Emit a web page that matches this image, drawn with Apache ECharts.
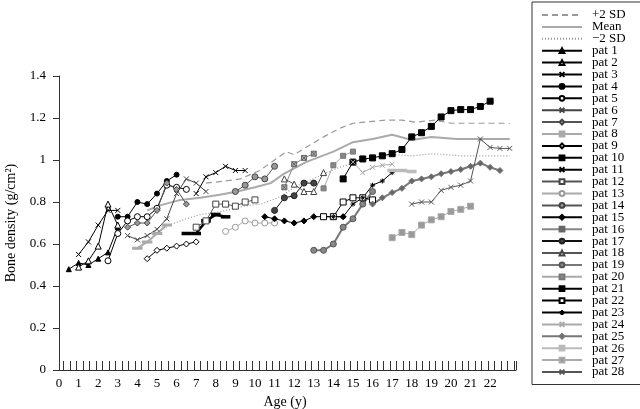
<!DOCTYPE html>
<html>
<head>
<meta charset="utf-8">
<script src="https://cdn.jsdelivr.net/npm/echarts@6/dist/echarts.min.js"></script>
<style>
html, body { margin: 0; padding: 0; background: #fff; }
#chart { width: 640px; height: 409px; }
</style>
</head>
<body>
<div id="chart"></div>
<script>
// reference curves
const plus2SD = [[7.5,0.89],[8.5,0.90],[9.25,0.91],[10.25,0.95],[11,1.0],[11.6,1.04],[12,1.025],[12.6,1.06],[13.5,1.11],[14.3,1.15],[15,1.175],[16.7,1.19],[17.5,1.19],[18.2,1.18],[19.2,1.19],[20,1.175],[23,1.175]]
const meanSD = [[4.5,0.76],[5.2,0.785],[6.2,0.81],[7.2,0.82],[8.2,0.835],[9.1,0.85],[10,0.87],[10.8,0.89],[11.4,0.93],[12.6,0.99],[14,1.04],[15,1.085],[16,1.10],[17,1.12],[18,1.095],[19,1.11],[20.3,1.10],[23,1.10]]
const minus2SD = [[4.6,0.62],[5.6,0.69],[6.5,0.72],[7.2,0.74],[8.3,0.755],[9.4,0.78],[10.3,0.79],[11.3,0.825],[12,0.87],[13.2,0.92],[14.3,0.965],[15.5,1.0],[16,1.01],[17.2,1.025],[18,1.02],[19.1,1.03],[20.5,1.02],[23,1.02]]

// patients [age, density]
const pat1 = [[0.5,0.48],[1,0.51],[1.5,0.50],[2,0.53],[2.5,0.56],[3,0.68]]
const pat2 = [[1,0.49],[1.5,0.52],[2,0.59],[2.5,0.79],[3,0.69]]
const pat3 = [[1,0.55],[1.5,0.61],[2,0.69],[2.5,0.76],[3,0.76]]
const pat4 = [[3,0.73],[3.5,0.73],[4,0.80],[4.5,0.79],[5,0.84],[5.5,0.90],[6,0.93]]
const pat5 = [[2.5,0.52],[3,0.65],[3.5,0.71],[4,0.73],[4.5,0.73],[5,0.77],[5.5,0.88],[6,0.87],[6.5,0.86]]
const pat6 = [[3.5,0.64],[4,0.62],[4.5,0.64],[5,0.67],[5.5,0.72],[6,0.84],[6.5,0.91],[7,0.89],[7.5,0.85]]
const pat7 = [[3.5,0.68],[4,0.70],[4.5,0.70],[5,0.76],[5.5,0.89],[6,0.86],[6.5,0.79]]
const pat8 = [[4,0.58],[4.5,0.61],[5,0.65],[5.5,0.69]]
const pat9 = [[4.5,0.53],[5,0.57],[5.5,0.58],[6,0.59],[6.5,0.60],[7,0.61]]
const pat10 = [[6.5,0.65],[7,0.65],[7.5,0.71],[8,0.74],[8.5,0.73]]
const pat11 = [[7,0.84],[7.5,0.92],[8,0.94],[8.5,0.97],[9,0.95],[9.5,0.95]]
const pat12 = [[7,0.68],[7.5,0.71],[8,0.79],[8.5,0.79],[9,0.78],[9.5,0.80],[10,0.81]]
const pat13 = [[8.5,0.66],[9,0.68],[9.5,0.71],[10,0.70],[10.5,0.70],[11,0.70]]
const pat14 = [[9,0.85],[9.5,0.88],[10,0.92],[10.5,0.91],[11,0.97]]
const pat15 = [[10.5,0.73],[11,0.72],[11.5,0.71],[12,0.70],[12.5,0.71],[13,0.73],[13.5,0.73],[14,0.73],[14.5,0.73]]
const pat16 = [[11.5,0.87],[12,0.98],[12.5,1.01],[13,1.03]]
const pat17 = [[11,0.76],[11.5,0.82],[12,0.83],[12.5,0.89],[13,0.89]]
const pat18 = [[11.5,0.91],[12,0.885],[12.5,0.85],[13,0.85],[13.5,0.94]]
const pat19 = [[13,0.57],[13.5,0.57],[14,0.60],[14.5,0.68],[15,0.72],[15.5,0.79],[16,0.85]]
const pat20 = [[13.5,0.865],[14,0.975],[14.5,1.02],[15,1.04]]
const pat21 = [[14.5,0.91],[15,0.99],[15.5,1.005],[16,1.01],[16.5,1.02],[17,1.03],[17.5,1.05],[18,1.11],[18.5,1.13],[19,1.16],[19.5,1.205],[20,1.235],[20.5,1.24],[21,1.24],[21.5,1.255],[22,1.28]]
const pat22 = [[13.5,0.73],[14,0.73],[14.5,0.80],[15,0.82],[15.5,0.82],[16,0.81]]
const pat23 = [[14,0.73],[14.5,0.73],[15,0.79],[15.5,0.82],[16,0.88],[16.5,0.90],[17,0.94]]
const pat24 = [[15,0.99],[15.5,0.94],[16,0.965],[16.5,0.975],[17,0.98]]
const pat25 = [[16,0.79],[16.5,0.82],[17,0.845],[17.5,0.865],[18,0.90],[18.5,0.91],[19,0.92],[19.5,0.935],[20,0.945],[20.5,0.955],[21,0.97],[21.5,0.985],[22,0.965],[22.5,0.95]]
const pat26 = [[17,0.95],[17.5,0.95],[18,0.945]]
const pat27 = [[17,0.63],[17.5,0.655],[18,0.645],[18.5,0.69],[19,0.715],[19.5,0.73],[20,0.755],[20.5,0.765],[21,0.78]]
const pat28 = [[18,0.79],[18.5,0.80],[19,0.80],[19.5,0.855],[20,0.87],[20.5,0.88],[21,0.90],[21.5,1.10],[22,1.06],[22.5,1.055],[23,1.055]]

const FONT = 'Liberation Serif'
const CROSS = 'path://M0,0L10,10M10,0L0,10'
const STAR = 'path://M5,0V10M0,5H10M1.5,1.5L8.5,8.5M8.5,1.5L1.5,8.5'
const BOXX = 'path://M0,0H10V10H0ZM0,0L10,10M10,0L0,10'

function sd(name, data, color, type, width) {
    return {
        name: name, type: 'line', data: data, symbol: 'none',
        lineStyle: { color: color, type: type, width: width },
        itemStyle: { color: 'rgba(0,0,0,0)', borderWidth: 0 }
    }
}

function pat(name, data, o) {
    return {
        name: name, type: 'line', data: data,
        symbol: o.symbol, symbolSize: o.size || 5,
        lineStyle: { color: o.line, width: o.width || 1 },
        itemStyle: { color: o.fill, borderColor: o.stroke || o.line, borderWidth: 1 }
    }
}

const series = [
    sd('+2 SD', plus2SD, '#999', [6, 4], 1.2),
    sd('Mean', meanSD, '#aaa', 'solid', 2),
    sd('\u22122 SD', minus2SD, '#999', [1, 2], 1.2),
    pat('pat 1', pat1, { symbol: 'triangle', line: '#000', fill: '#000' }),
    pat('pat 2', pat2, { symbol: 'triangle', line: '#000', fill: '#fff', size: 6 }),
    pat('pat 3', pat3, { symbol: CROSS, line: '#000', fill: '#000' }),
    pat('pat 4', pat4, { symbol: 'circle', line: '#000', fill: '#000' }),
    pat('pat 5', pat5, { symbol: 'circle', line: '#000', fill: '#fff', size: 6 }),
    pat('pat 6', pat6, { symbol: CROSS, line: '#444', fill: '#444' }),
    pat('pat 7', pat7, { symbol: 'diamond', line: '#555', fill: '#999', stroke: '#444', size: 6 }),
    pat('pat 8', pat8, { symbol: 'rect', line: '#aaa', fill: '#aaa', size: [7, 2], width: 2 }),
    pat('pat 9', pat9, { symbol: 'diamond', line: '#000', fill: '#fff', size: 6 }),
    pat('pat 10', pat10, { symbol: 'rect', line: '#000', fill: '#000', size: [8, 3], width: 2.5 }),
    pat('pat 11', pat11, { symbol: CROSS, line: '#000', fill: '#000' }),
    pat('pat 12', pat12, { symbol: 'rect', line: '#555', fill: '#fff', stroke: '#444', size: 6 }),
    pat('pat 13', pat13, { symbol: 'circle', line: '#aaa', fill: '#fff', stroke: '#999', size: 6 }),
    pat('pat 14', pat14, { symbol: 'circle', line: '#555', fill: '#999', stroke: '#444', size: 6 }),
    pat('pat 15', pat15, { symbol: 'diamond', line: '#000', fill: '#000', size: 6 }),
    pat('pat 16', pat16, { symbol: BOXX, line: '#888', fill: '#aaa', stroke: '#666' }),
    pat('pat 17', pat17, { symbol: 'circle', line: '#111', fill: '#444', stroke: '#222', size: 6 }),
    pat('pat 18', pat18, { symbol: 'triangle', line: '#555', fill: '#fff', stroke: '#444', size: 6 }),
    pat('pat 19', pat19, { symbol: 'circle', line: '#777', fill: '#888', stroke: '#555', size: 6, width: 2 }),
    pat('pat 20', pat20, { symbol: 'rect', line: '#aaa', fill: '#888', stroke: '#777' }),
    pat('pat 21', pat21, { symbol: 'rect', line: '#000', fill: '#000', size: 6 }),
    pat('pat 22', pat22, { symbol: 'rect', line: '#000', fill: '#fff', size: 6 }),
    pat('pat 23', pat23, { symbol: STAR, line: '#000', fill: '#000' }),
    pat('pat 24', pat24, { symbol: CROSS, line: '#aaa', fill: '#aaa' }),
    pat('pat 25', pat25, { symbol: 'diamond', line: '#777', fill: '#666', size: 6, width: 2 }),
    pat('pat 26', pat26, { symbol: 'rect', line: '#bbb', fill: '#bbb', size: [8, 3], width: 2.5 }),
    pat('pat 27', pat27, { symbol: 'rect', line: '#aaa', fill: '#999', size: 6 }),
    pat('pat 28', pat28, { symbol: CROSS, line: '#555', fill: '#555' })
]

const chart = echarts.init(document.getElementById('chart'))
chart.setOption({
    animation: false,
    backgroundColor: '#fff',
    textStyle: { fontFamily: FONT },
    legend: {
        type: 'plain',
        orient: 'vertical', left: 532, top: 2,
        itemWidth: 40, itemHeight: 6, itemGap: -1.1,
        padding: [6.5, 20, 6, 9],
        borderColor: '#333', borderWidth: 1, backgroundColor: '#fff',
        textStyle: { fontFamily: FONT, fontSize: 13, color: '#000', padding: [0, 0, 0, 5] }
    },
    grid: [
        { left: 54, right: 124, top: 76, bottom: 39, outerBoundsMode: 'none' },
        { left: 59, width: 450.8, top: 76, bottom: 39, outerBoundsMode: 'none' },
        { left: 63.3, right: 124, top: 76, bottom: 39, outerBoundsMode: 'none' }
    ],
    xAxis: [
        {
            type: 'value', gridIndex: 0, min: -0.255, max: 23.32,
            name: 'Age (y)', nameLocation: 'middle', nameGap: 25,
            nameTextStyle: { fontFamily: FONT, fontSize: 14, color: '#000' },
            axisLine: { lineStyle: { color: '#333', width: 1 } },
            axisTick: { show: false }, axisLabel: { show: false }, splitLine: { show: false }
        },
        {
            type: 'value', gridIndex: 1, min: 0, max: 23, interval: 1,
            axisLine: { show: false }, axisTick: { show: false }, splitLine: { show: false },
            axisLabel: {
                margin: 7, fontFamily: FONT, fontSize: 13, color: '#000',
                formatter: v => v > 22 ? '' : String(v)
            }
        },
        {
            type: 'value', gridIndex: 2, min: 0, max: 23.1, interval: 1 / 3,
            axisLine: { show: true, lineStyle: { color: 'rgba(0,0,0,0)' } },
            axisLabel: { show: true, formatter: () => '' },
            splitLine: { show: false },
            axisTick: { show: true, inside: true, length: 9, lineStyle: { color: '#333', width: 1 } }
        }
    ],
    yAxis: [
        {
            type: 'value', gridIndex: 0, min: 0, max: 1.4, interval: 0.2,
            name: 'Bone density (g/cm\u00b2)', nameLocation: 'middle', nameGap: 36,
            nameTextStyle: { fontFamily: FONT, fontSize: 14, color: '#000' },
            axisLine: { show: true, lineStyle: { color: '#333', width: 1 } },
            axisTick: { show: true, length: 6, lineStyle: { color: '#333' } },
            axisLabel: { margin: 8, fontFamily: FONT, fontSize: 13, color: '#000' },
            splitLine: { show: false }
        },
        { type: 'value', gridIndex: 1, min: 0, max: 1.4, show: false },
        { type: 'value', gridIndex: 2, min: 0, max: 1.4, show: false }
    ],
    series: series
})
</script>
</body>
</html>
